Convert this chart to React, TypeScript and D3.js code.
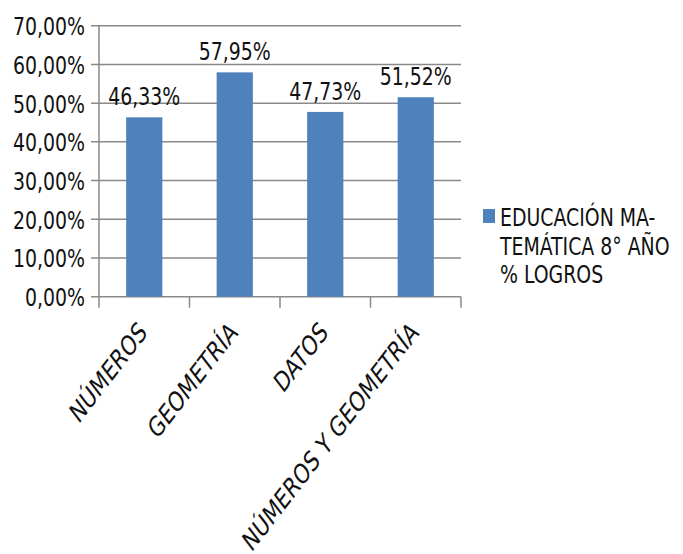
import React from "react";
import * as d3 from "d3";

const categories = ["NÚMEROS", "GEOMETRÍA", "DATOS", "NÚMEROS Y GEOMETRÍA"];
const values = [46.33, 57.95, 47.73, 51.52];
const valueLabels = ["46,33%", "57,95%", "47,73%", "51,52%"];
const yTicks = [0, 10, 20, 30, 40, 50, 60, 70];
const yTickLabels = ["0,00%", "10,00%", "20,00%", "30,00%", "40,00%", "50,00%", "60,00%", "70,00%"];
const legendLines = ["EDUCACIÓN MA-", "TEMÁTICA 8° AÑO", "% LOGROS"];

const W = 683;
const H = 554;
const left = 99;
const right = 461;
const top = 25.7;
const bottom = 296.7;
const FONT = "'DejaVu Sans Condensed', 'DejaVu Sans', sans-serif";
const FS = 21;
const SY = 1.2;
const GRID = "#898989";
const BAR = "#4F81BD";

export default function App() {
  const x = d3.scaleBand<string>().domain(categories).range([left, right]).paddingInner(0.6).paddingOuter(0.3);
  const xb = d3.scaleBand<string>().domain(categories).range([left, right]);
  const y = d3.scaleLinear().domain([0, 70]).range([bottom, top]);
  const boundaries = [left, ...categories.map((c) => (xb(c) as number) + xb.bandwidth())];

  return (
    <svg width={W} height={H} style={{ position: "absolute", left: 0, top: 0, background: "#fff" }}>
      <rect width={W} height={H} fill="#fff" />
      {yTicks.map((t, i) => (
        <g key={t}>
          <line x1={left - 8} x2={right} y1={y(t)} y2={y(t)} stroke={GRID} strokeWidth={1.5} />
          <text
            transform={`translate(85,${y(t) + 9.5}) scale(1,${SY})`}
            textAnchor="end"
            fontFamily={FONT}
            fontSize={FS}
            fill="#111"
          >
            {yTickLabels[i]}
          </text>
        </g>
      ))}
      <line x1={left} x2={left} y1={top} y2={bottom} stroke={GRID} strokeWidth={1.5} />
      {boundaries.map((b, i) => (
        <line key={i} x1={b} x2={b} y1={bottom} y2={bottom + 11} stroke={GRID} strokeWidth={1.5} />
      ))}
      {categories.map((c, i) => {
        const bx = x(c) as number;
        const cx = bx + x.bandwidth() / 2;
        return (
          <g key={c}>
            <rect x={bx} y={y(values[i])} width={x.bandwidth()} height={bottom - y(values[i])} fill={BAR} />
            <text
              transform={`translate(${cx},${y(values[i]) - 12}) scale(1,${SY})`}
              textAnchor="middle"
              fontFamily={FONT}
              fontSize={FS}
              fill="#111"
            >
              {valueLabels[i]}
            </text>
            <text
              transform={`translate(${cx + 4},${334}) scale(1,1.3) rotate(-45)`}
              textAnchor="end"
              fontFamily={FONT}
              fontSize={21.5}
              fill="#111"
            >
              {c}
            </text>
          </g>
        );
      })}
      <rect x={483} y={209} width={12} height={14} fill={BAR} />
      {legendLines.map((l, i) => (
        <text
          key={i}
          transform={`translate(500,${226 + i * 28.7}) scale(1,${SY})`}
          fontFamily={FONT}
          fontSize={FS}
          fill="#111"
        >
          {l}
        </text>
      ))}
    </svg>
  );
}
